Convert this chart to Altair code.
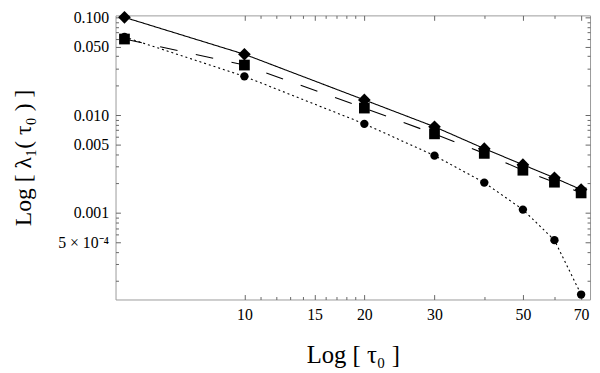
import altair as alt
import pandas as pd

# ---- data ----
tau = [5, 10, 20, 30, 40, 50, 60, 70]
diamond_vals = [0.100, 0.0419, 0.0143, 0.0076, 0.00454, 0.00311, 0.00228, 0.00173]
square_vals = [0.060, 0.0325, 0.0118, 0.00643, 0.00406, 0.00273, 0.00206, 0.00160]
circle_vals = [0.063, 0.0249, 0.00814, 0.00385, 0.00204, 0.00108, 0.000526, 0.000146]
series_names = ["diamond", "square", "circle"]

x_major = [10, 15, 20, 30, 50, 70]
x_minor = [11, 12, 13, 14, 16, 17, 18, 19, 40, 60]
y_major = [0.1, 0.05, 0.01, 0.005, 0.001, 0.0005]
y_minor = [0.0002, 0.0003, 0.0004, 0.0006, 0.0007, 0.0008, 0.0009,
           0.002, 0.003, 0.004, 0.006, 0.007, 0.008, 0.009,
           0.02, 0.03, 0.04, 0.06, 0.07, 0.08, 0.09]

df = pd.DataFrame({
    "tau": tau * 3,
    "lam": diamond_vals + square_vals + circle_vals,
    "series": ["diamond"] * len(tau) + ["square"] * len(tau) + ["circle"] * len(tau),
})

FONT = "Liberation Serif"
TICK = "#666666"

xs = alt.Scale(type="log", domain=[4.748, 73.7], nice=False)
ys = alt.Scale(type="log", domain=[1.3e-4, 0.1047], nice=False)


def frame_axis(orient, values, size, **kw):
    base = dict(orient=orient, values=values, offset=-size, tickSize=size,
                domain=False, grid=False, tickColor=TICK, tickWidth=1,
                labelOverlap=False, labelFlush=False)
    base.update(kw)
    if "labels" not in base:
        base["labels"] = False
    if "title" not in base:
        base["title"] = None
    return alt.Axis(**base)


x_bottom = frame_axis("bottom", x_major, 5, labels=True, labelFont=FONT,
                      labelFontSize=16, labelColor="black", labelPadding=7,
                      title="Log [ τ₀ ]", titleFont=FONT, titleFontSize=25,
                      titleFontWeight="normal", titleColor="black",
                      titleBaseline="alphabetic", titleY=69)
y_left = frame_axis("left", y_major, 5, labels=True, labelFont=FONT,
                    labelFontSize=16, labelColor="black", labelPadding=7,
                    labelExpr="datum.value == 0.0005 ? '5 × 10⁻⁴' : format(datum.value, '.3f')",
                    title="Log [ λ₁( τ₀ ) ]", titleFont=FONT, titleFontSize=24,
                    titleFontWeight="normal", titleColor="black",
                    titleBaseline="alphabetic", titleX=-91)

lines = alt.Chart(df).mark_line(color="black", strokeWidth=1.1).encode(
    x=alt.X("tau:Q", scale=xs, axis=x_bottom),
    y=alt.Y("lam:Q", scale=ys, axis=y_left),
    strokeDash=alt.StrokeDash(
        "series:N",
        scale=alt.Scale(domain=series_names, range=[[1, 0], [18, 19], [2, 3]]),
        legend=None,
    ),
)

points = alt.Chart(df).mark_point(filled=True, color="black", opacity=1).encode(
    x=alt.X("tau:Q", scale=xs, axis=frame_axis("bottom", x_minor, 3)),
    y=alt.Y("lam:Q", scale=ys, axis=frame_axis("left", y_minor, 3)),
    shape=alt.Shape("series:N",
                    scale=alt.Scale(domain=series_names, range=["diamond", "square", "circle"]),
                    legend=None),
    size=alt.Size("series:N",
                  scale=alt.Scale(domain=series_names, range=[165, 72, 105]),
                  legend=None),
)

top_right_major = alt.Chart(df).mark_point(opacity=0).encode(
    x=alt.X("tau:Q", scale=xs, axis=frame_axis("top", x_major, 5)),
    y=alt.Y("lam:Q", scale=ys, axis=frame_axis("right", y_major, 5)),
)

top_right_minor = alt.Chart(df).mark_point(opacity=0).encode(
    x=alt.X("tau:Q", scale=xs, axis=frame_axis("top", x_minor, 3)),
    y=alt.Y("lam:Q", scale=ys, axis=frame_axis("right", y_minor, 3)),
)

chart = alt.layer(lines, points, top_right_major, top_right_minor).resolve_axis(
    x="independent", y="independent"
).properties(
    width=481,
    height=288,
    autosize=alt.AutoSizeParams(type="none"),
    padding={"left": 109, "top": 5, "right": 2, "bottom": 70},
    background="white",
).configure_view(stroke="#9a9a9a", strokeWidth=1)

chart.save("out.html", embed_options={"renderer": "svg", "actions": False})
